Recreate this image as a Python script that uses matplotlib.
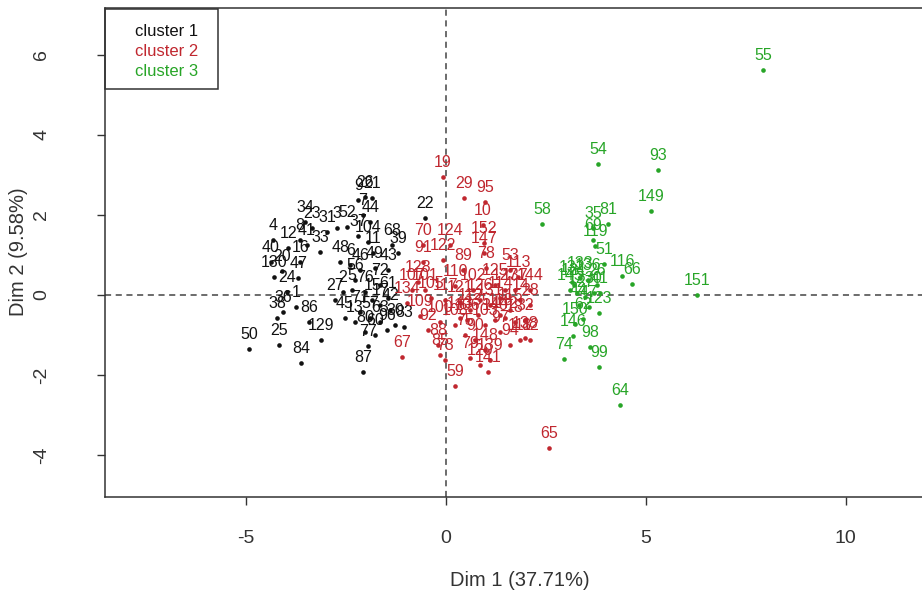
import matplotlib
matplotlib.use("Agg")
import matplotlib.pyplot as plt
from matplotlib.patches import Rectangle

plt.rcParams['font.family'] = ['Liberation Sans', 'DejaVu Sans']
plt.rcParams['axes.unicode_minus'] = False

# ---- data: (Dim 1, Dim 2, label) per cluster ----
c1_x = [-4.92, -4.17, -3.62, -3.42, -3.12, -2.07, -3.74, -4.07, -4.22, -4.29, -3.69, -3.97,
        -4.09, -3.64, -4.37, -3.47, -4.32, -3.94, -3.64, -3.14, -3.34, -3.52, -2.97, -2.02,
        -1.84, -2.19, -2.07, -1.89, -2.47, -2.72, -2.19, -1.94, -1.34, -1.19, -1.82, -2.64,
        -2.39, -2.14, -1.77, -1.44, -2.57, -2.77, -2.34, -2.02, -1.84, -1.64, -1.39, -2.14,
        -1.89, -1.64, -1.27, -2.27, -2.52, -2.02, -1.77, -1.47, -1.04, -1.94, -0.52, -1.64,
        -1.44, -2.27]
c1_y = [-1.35, -1.25, -1.70, -0.68, -1.12, -1.93, -0.30, -0.43, -0.58, 0.45, 0.43, 0.08,
        0.60, 0.83, 0.83, 1.25, 1.38, 1.18, 1.38, 1.08, 1.68, 1.83, 1.58, 2.45,
        2.43, 2.38, 2.00, 1.83, 1.70, 1.68, 1.48, 1.33, 1.25, 1.05, 1.05, 0.83,
        0.75, 0.63, 0.68, 0.63, 0.08, -0.13, 0.13, 0.08, -0.13, -0.25, -0.38, -0.43,
        -0.58, -0.68, -0.75, -0.68, -0.58, -0.93, -1.00, -0.88, -0.80, -1.28, 1.93, 0.25,
        -0.08, 0.38]
c1_lab = ["50", "25", "84", "86", "129", "87", "1", "36", "38", "130", "47", "24",
          "20", "16", "40", "41", "4", "12", "8", "33", "23", "34", "31", "26",
          "21", "9", "7", "44", "52", "3", "37", "104", "68", "39", "11", "48",
          "6", "46", "49", "43", "2", "27", "5", "76", "15", "17", "42", "71",
          "57", "63", "30", "13", "45", "80", "60", "96", "83", "77", "22", "72",
          "61", "56"]

c2_x = [-0.07, 0.46, 0.98, 0.93, -0.57, 0.11, 0.96, 0.96, -0.07, -0.57, -0.69, 0.43,
        1.01, 1.61, 1.81, 0.23, -0.52, -0.37, -0.02, 0.36, -0.97, -0.44, -1.09, -0.14,
        0.23, 0.48, 0.61, 0.86, 1.11, 1.36, 1.61, 1.86, 2.11, 1.98, 1.73, 1.48,
        1.23, 0.98, 0.73, 0.98, 1.11, 0.86, 1.06, 0.61, 0.23, -0.14, -0.02, -0.19,
        2.58, 1.36, 1.23, 1.48, 0.68, 0.53, 1.86, 1.98, 2.11, 1.61, 1.36, -0.84,
        -0.64, 0.36, 0.81, 1.73, 2.11]
c2_y = [2.95, 2.43, 2.33, 1.75, 1.25, 1.25, 1.30, 1.05, 0.88, 0.83, 0.33, 0.63,
        0.68, 0.63, 0.45, 0.23, 0.13, -0.08, -0.13, -0.18, -0.20, -0.88, -1.55, -0.68,
        -0.75, -1.00, -0.38, -0.13, -0.25, -0.08, -0.38, -0.13, -0.25, -0.63, -0.68, -0.58,
        -0.63, -0.75, -1.13, -1.38, -1.63, -1.75, -1.93, -1.58, -2.28, -1.50, -1.63, -1.25,
        -3.83, -0.50, 0.25, 0.13, 0.13, -0.63, -1.13, -1.08, -1.13, -1.25, -0.93, 0.13,
        -0.53, -0.58, -0.50, 0.13, 0.13]
c2_lab = ["19", "29", "95", "10", "70", "124", "152", "147", "122", "91", "128", "89",
          "78", "53", "113", "110", "101", "105", "117", "121", "134", "92", "67", "100",
          "108", "75", "112", "126", "131", "114", "115", "14", "28", "32", "18", "142",
          "140", "103", "90", "148", "139", "120", "141", "79", "59", "85", "73", "88",
          "65", "118", "125", "127", "102", "106", "111", "138", "82", "94", "97", "107",
          "109", "143", "135", "137", "144"]

c3_x = [7.93, 3.81, 5.31, 5.13, 2.41, 4.06, 3.68, 3.68, 3.73, 3.96, 4.41, 4.66,
        6.28, 2.96, 3.61, 3.83, 4.36, 3.83, 3.43, 3.23, 3.18, 3.11, 3.16, 3.36,
        3.56, 3.78, 3.28, 3.48, 3.70, 3.33, 3.58, 3.85, 3.20]
c3_y = [5.62, 3.28, 3.12, 2.10, 1.78, 1.78, 1.68, 1.38, 1.23, 0.78, 0.48, 0.28,
        0.00, -1.60, -1.30, -1.80, -2.75, -0.45, -0.60, -0.73, -1.03, 0.13, 0.33, 0.43,
        0.38, 0.25, 0.05, -0.05, 0.05, -0.25, -0.30, 0.05, 0.25]
c3_lab = ["55", "54", "93", "149", "58", "81", "35", "69", "119", "51", "116", "66",
          "151", "74", "98", "99", "64", "123", "62", "150", "146", "145", "132", "133",
          "136", "26", "12", "27", "30", "44", "47", "41", "121"]

clusters = [("cluster 1", c1_x, c1_y, c1_lab, "#111111"),
            ("cluster 2", c2_x, c2_y, c2_lab, "#C0272F"),
            ("cluster 3", c3_x, c3_y, c3_lab, "#27A527")]

W, H = 922, 598
fig = plt.figure(figsize=(W / 100, H / 100), dpi=100)
# axes in pixel geometry: left 105, right 935 (beyond image), top 8, bottom 497
ax = fig.add_axes([105 / W, (H - 497) / H, (935 - 105) / W, (497 - 8) / H])
ax.set_xlim(-8.52, 12.23)
ax.set_ylim(-5.05, 7.175)

ax.axhline(0, color="#444444", lw=1.1, ls=(0, (4, 3)), zorder=1)
ax.axvline(0, color="#444444", lw=1.1, ls=(0, (4, 3)), zorder=1)

for name, xs, ys, labs, col in clusters:
    ax.scatter(xs, ys, s=11, color=col, zorder=3, linewidths=0)
    for x, y, t in zip(xs, ys, labs):
        ax.annotate(t, (x, y), xytext=(0, 10.5), textcoords="offset points",
                    ha="center", va="center", fontsize=11.5, color=col, zorder=4)

ax.set_xticks([-5, 0, 5, 10])
ax.set_yticks([-4, -2, 0, 2, 4, 6])
ax.tick_params(axis="x", direction="out", length=5.5, width=1, pad=18, labelsize=14,
               colors="#333333")
ax.tick_params(axis="y", direction="out", length=5.5, width=1, pad=34, labelsize=14,
               colors="#333333", labelrotation=90)
for lab in ax.get_yticklabels():
    lab.set_va("center")
for s in ax.spines.values():
    s.set_color("#333333")
    s.set_linewidth(1.1)

fig.text(520 / W, 1 - 580 / H, "Dim 1 (37.71%)", ha="center", va="center",
         fontsize=14.5, color="#333333")
fig.text(19 / W, 1 - 252 / H, "Dim 2 (9.58%)", ha="center", va="center",
         fontsize=14.5, color="#333333", rotation=90)

# legend box (R style)
fig.patches.append(Rectangle((105 / W, 1 - 89 / H), (218 - 105) / W, (89 - 9) / H,
                             transform=fig.transFigure, fill=False,
                             edgecolor="#333333", lw=1.1, zorder=5))
for i, (name, xs, ys, labs, col) in enumerate(clusters):
    fig.text(135 / W, 1 - (32 + i * 19.5) / H, name, ha="left", va="center",
             fontsize=12, color=col)

fig.savefig("out.png", dpi=100)
